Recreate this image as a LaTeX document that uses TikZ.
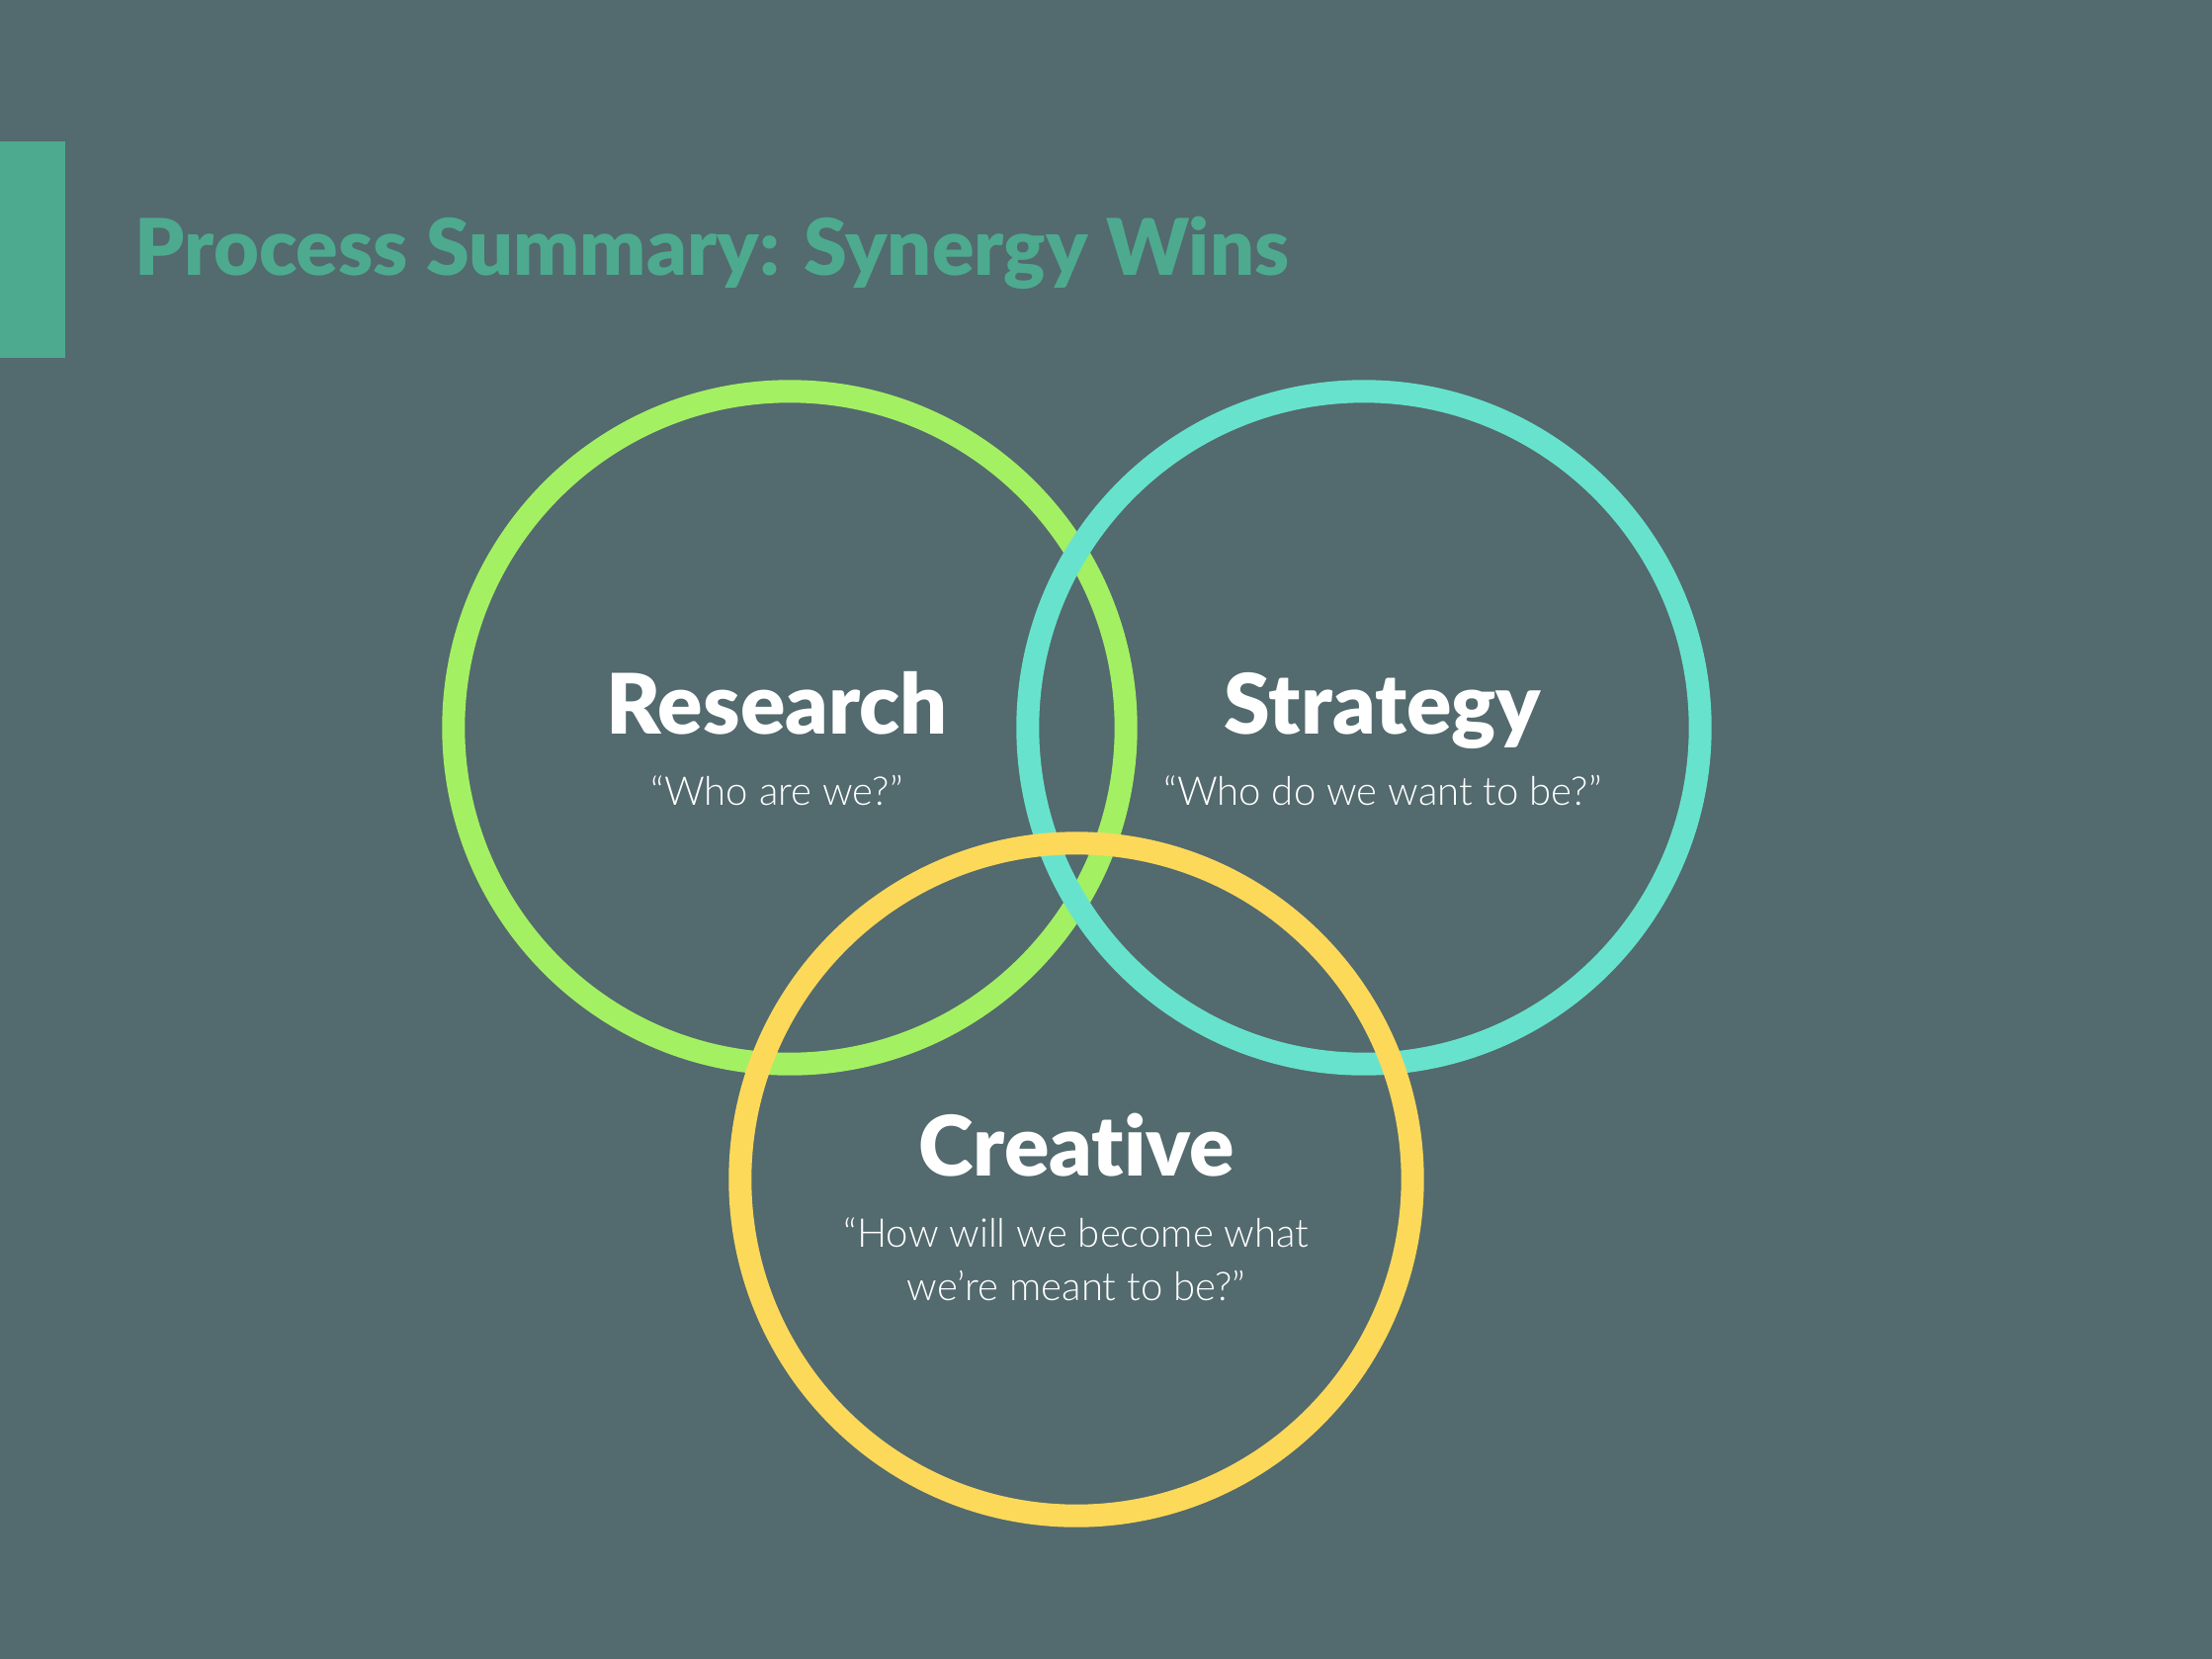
\documentclass[tikz,border=0pt]{standalone}
\usepackage{fontspec}
\setmainfont{Lato}
\newfontfamily\heavyfont[Ligatures=NoCommon]{Lato Black}
\newfontfamily\lightfont{Lato Light}
\definecolor{slateBg}{RGB}{83,106,110}
\definecolor{titleTeal}{RGB}{77,170,143}
\definecolor{ringGreen}{RGB}{164,240,99}
\definecolor{ringCyan}{RGB}{103,227,205}
\definecolor{ringYellow}{RGB}{253,217,90}
\usetikzlibrary{positioning}

\begin{document}
\begin{tikzpicture}[
  x=0.01cm, y=-0.01cm,
  ring/.style={draw=#1, circle, line width=0.23cm, minimum size=6.8cm, inner sep=0pt},
  head/.style={text=white, anchor=base, font=\heavyfont\fontsize{24}{28}\selectfont},
  quote/.style={text=white, anchor=base, align=center, font=\lightfont\fontsize{11.4}{15.4}\selectfont}
]
  % background and page frame
  \fill[slateBg] (0,0) rectangle (2238,1678);
  \useasboundingbox (0,0) rectangle (2238,1678);
  \fill[titleTeal] (0,143) rectangle (66,362);
  \node[anchor=base west, inner sep=0pt, text=titleTeal,
        font=\heavyfont\fontsize{22.5}{27}\selectfont] (title) at (136,278)
    {Process Summary: Synergy Wins};

  % the three rings, stacked green, cyan, yellow
  \node[ring=ringGreen]  (research ring) at (799,736)  {};
  \node[ring=ringCyan]   (strategy ring) at (1380,736) {};
  \node[ring=ringYellow] (creative ring) at (1089,1193) {};

  \node[head]  (research) at (786,742)  {Research};
  \node[quote] (research q) at (786,814) {“Who are we?”};
  \node[head]  (strategy) at (1399,742) {Strategy};
  \node[quote] (strategy q) at (1399,814) {“Who do we want to be?”};
  \node[head]  (creative) at (1089,1189) {Creative};
  \node[quote, anchor=north] (creative q) at (1089,1219)
    {“How will we become what\\we’re meant to be?”};
\end{tikzpicture}
\end{document}
